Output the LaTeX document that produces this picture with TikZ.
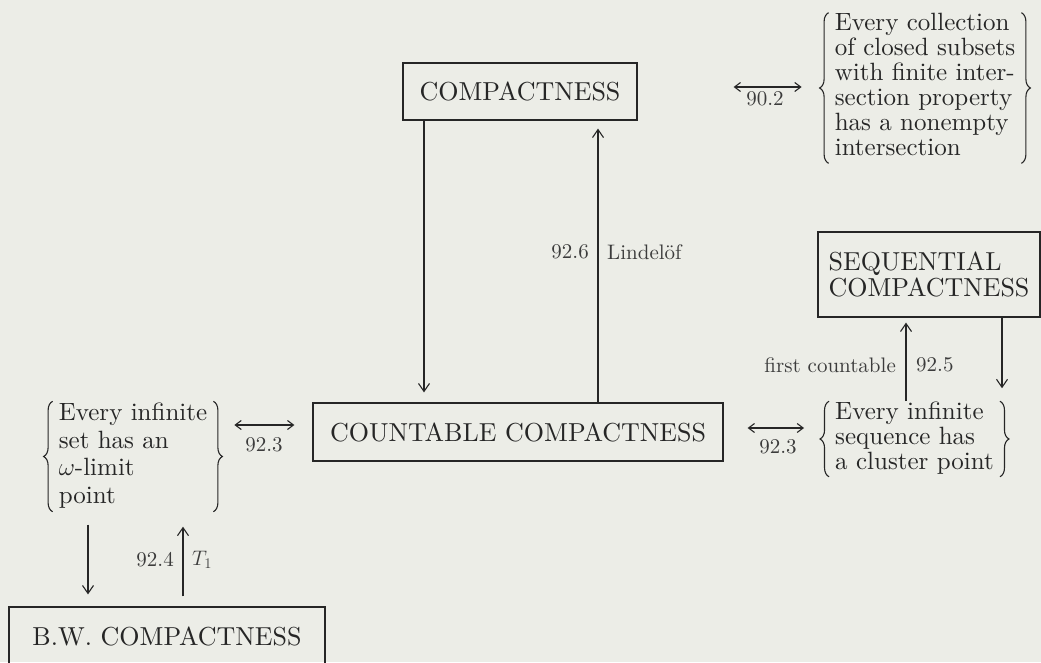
\RequirePackage{fix-cm}
\documentclass[tikz,border=0pt]{standalone}
\usepackage{amsmath}
\usepackage{fontspec}
\setmainfont{lmroman10-regular.otf}
\usetikzlibrary{arrows.meta, positioning, calc, decorations.pathreplacing}
\definecolor{paper}{RGB}{236,237,231}
\definecolor{ink}{RGB}{38,38,38}

\begin{document}
\begin{tikzpicture}[x=1pt, y=-1pt,
    box/.style={draw=ink, line width=1.2pt, text=ink, inner sep=0pt, font=\fontsize{26}{26}\selectfont},
    brc/.style={text=ink, inner xsep=6pt, inner ysep=0pt, font=\fontsize{25}{25}\selectfont},
    curly/.style={draw=ink, line width=1.1pt, decorate, decoration={brace, amplitude=9pt}},
    lbl/.style={text=ink!90, inner sep=1pt, font=\fontsize{21}{21}\selectfont},
    arr/.style={draw=ink, line width=1.1pt, -{Straight Barb[length=8pt,width=11pt]}},
    dbl/.style={draw=ink, line width=1.1pt, {Straight Barb[length=6pt,width=9pt]}-{Straight Barb[length=6pt,width=9pt]}}]
    \fill[paper] (0,0) rectangle (1041,662);
    \useasboundingbox (0,0) rectangle (1041,662);

    \node[box, minimum width=234pt, minimum height=57pt] (comp) at (520,91.5) {COMPACTNESS};
    \node[box, minimum width=410pt, minimum height=58pt] (count) at (518,432) {COUNTABLE COMPACTNESS};
    \node[box, minimum width=222pt, minimum height=85pt, align=left] (seq) at (929,274.5) {SEQUENTIAL\\COMPACTNESS};
    \node[box, minimum width=316pt, minimum height=58pt] (bw) at (167,636) {B.W. COMPACTNESS};

    \node[brc] (fip) at (925,88) {\begin{tabular}{@{}l@{}}Every collection\\ of closed subsets\\ with finite inter-\\ section property\\ has a nonempty\\ intersection\end{tabular}};
    \node[brc] (seqprop) at (914.5,439) {\begin{tabular}{@{}l@{}}Every infinite\\ sequence has\\ a cluster point\end{tabular}};
    \node[brc, font=\fontsize{25}{27.5}\selectfont] (limpt) at (133,456.5) {\begin{tabular}{@{}l@{}}Every infinite\\ set has an\\ $\omega$-limit\\ point\end{tabular}};

    % braces round the statements
    \draw[curly] (fip.south west) -- (fip.north west);
    \draw[curly] (fip.north east) -- (fip.south east);
    \draw[curly] (seqprop.south west) -- (seqprop.north west);
    \draw[curly] (seqprop.north east) -- (seqprop.south east);
    \draw[curly] (limpt.south west) -- (limpt.north west);
    \draw[curly] (limpt.north east) -- (limpt.south east);

    % vertical implications
    \draw[arr, shorten >=10pt] ([xshift=-96pt]comp.south) -- ([xshift=-96pt]comp.south |- count.north);
    \draw[arr, shorten >=8pt] ([xshift=80pt]count.north) -- ([xshift=80pt]count.north |- comp.south);
    \draw[arr, shorten >=5pt] ([xshift=-23pt]seq.south |- seqprop.north) -- ([xshift=-23pt]seq.south);
    \draw[arr, shorten >=13pt] ([xshift=73pt]seq.south) -- ([xshift=73pt]seq.south |- seqprop.north);
    \draw[arr, shorten <=13pt, shorten >=12pt] ([xshift=-79pt]bw.north |- limpt.south) -- ([xshift=-79pt]bw.north);
    \draw[arr, shorten <=10pt, shorten >=15pt] ([xshift=16pt]bw.north) -- ([xshift=16pt]bw.north |- limpt.south);

    % equivalences
    \draw[dbl, shorten <=96pt, shorten >=27pt] (comp.east |- 0,87) -- (fip.west |- 0,87);
    \draw[dbl, shorten <=21pt, shorten >=18pt] (limpt.east |- 0,425) -- (count.west |- 0,425);
    \draw[dbl, shorten <=24pt, shorten >=25pt] (count.east |- 0,428) -- (seqprop.west |- 0,428);

    \node[lbl] (l902) at (765,99) {90.2};
    \node[lbl] (l923a) at (264,445) {92.3};
    \node[lbl] (l923b) at (778,447) {92.3};
    \node[lbl, anchor=east] (l926) at (590,252) {92.6};
    \node[lbl, anchor=west] (lind) at (606,252) {Lindel\"of};
    \node[lbl, anchor=east] (fc) at (897,365) {first countable};
    \node[lbl, anchor=west] (l925) at (915,365) {92.5};
    \node[lbl, anchor=east] (l924) at (175,560) {92.4};
    \node[lbl, anchor=west] (t1) at (191,560) {$T_1$};
\end{tikzpicture}
\end{document}
